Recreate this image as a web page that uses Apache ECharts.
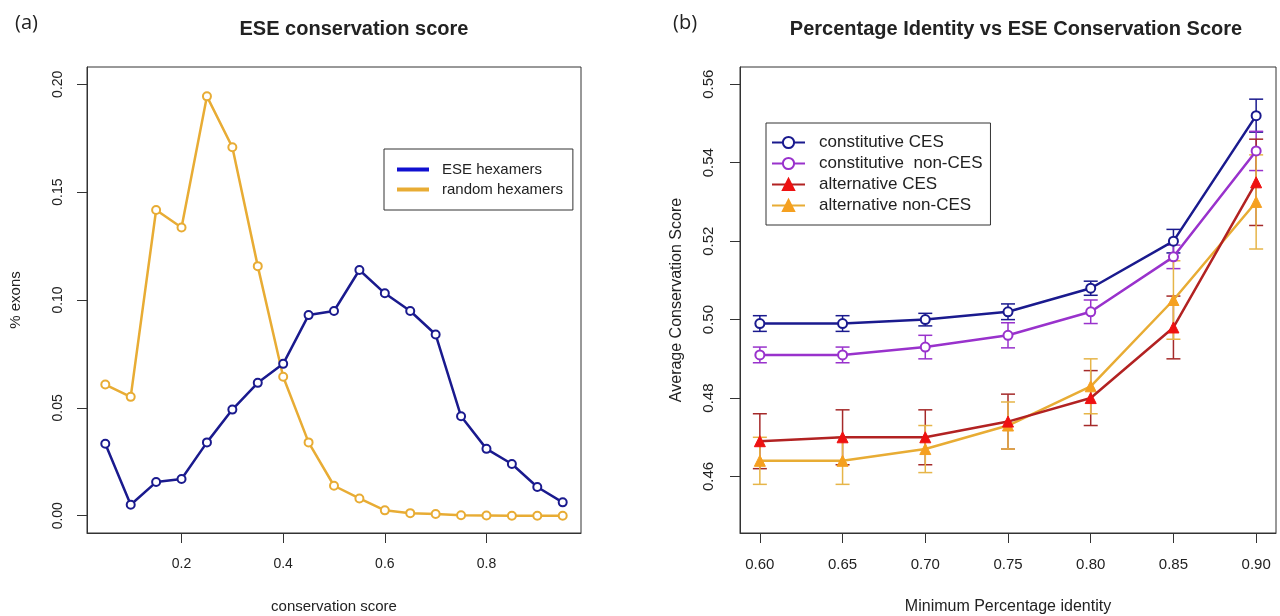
<!DOCTYPE html>
<html>
<head>
<meta charset="utf-8">
<script src="https://cdn.jsdelivr.net/npm/echarts@6/dist/echarts.min.js"></script>
<style>
html,body{margin:0;padding:0;background:#fff;}
#main{width:1280px;height:616px;}
</style>
</head>
<body>
<div id="main"></div>
<script>
// ---------- Data (a) ----------
const scoreBins = [0.05,0.10,0.15,0.20,0.25,0.30,0.35,0.40,0.45,0.50,0.55,0.60,0.65,0.70,0.75,0.80,0.85,0.90,0.95];
const eseHexamers = [0.0334,0.0051,0.0156,0.0170,0.0340,0.0492,0.0616,0.0704,0.0930,0.0949,0.1139,0.1031,0.0949,0.0840,0.0461,0.0310,0.0240,0.0133,0.0062];
const randomHexamers = [0.0608,0.0551,0.1417,0.1336,0.1944,0.1708,0.1157,0.0644,0.0340,0.0139,0.0080,0.0025,0.0012,0.0008,0.0002,0.0001,0.0000,0.0000,0.0000];
const aXTicks = [0.2,0.4,0.6,0.8];
const aYTicks = [0.00,0.05,0.10,0.15,0.20];

// ---------- Data (b) ----------
const identity = [0.60,0.65,0.70,0.75,0.80,0.85,0.90];
const constCES = [0.499,0.499,0.500,0.502,0.508,0.520,0.552];
const constCESErr = [0.002,0.002,0.0016,0.002,0.0018,0.003,0.0042];
const constNonCES = [0.491,0.491,0.493,0.496,0.502,0.516,0.543];
const constNonCESErr = [0.002,0.002,0.003,0.0032,0.003,0.003,0.005];
const altCES = [0.469,0.470,0.470,0.474,0.480,0.498,0.535];
const altCESErr = [0.007,0.007,0.007,0.007,0.007,0.008,0.011];
const altNonCES = [0.464,0.464,0.467,0.473,0.483,0.505,0.530];
const altNonCESErr = [0.006,0.006,0.006,0.006,0.007,0.010,0.012];
const bXTicks = [0.60,0.65,0.70,0.75,0.80,0.85,0.90];
const bYTicks = [0.46,0.48,0.50,0.52,0.54,0.56];

const FONT = 'Liberation Sans';
const pair = (xs, ys) => xs.map((x,i)=>[x, ys[i]]);
const errData = (xs, ys, es) => xs.map((x,i)=>[x, ys[i]-es[i], ys[i]+es[i]]);

function errSeries(name, data, color){
  return {
    type:'custom', xAxisIndex:1, yAxisIndex:1, z:1, silent:true,
    data: data,
    renderItem: function(params, api){
      const x = api.value(0);
      const p1 = api.coord([x, api.value(1)]);
      const p2 = api.coord([x, api.value(2)]);
      const w = 7;
      const st = {stroke: color, lineWidth: 1.5};
      return {type:'group', children:[
        {type:'line', shape:{x1:p1[0],y1:p1[1],x2:p2[0],y2:p2[1]}, style:st},
        {type:'line', shape:{x1:p1[0]-w,y1:p1[1],x2:p1[0]+w,y2:p1[1]}, style:st},
        {type:'line', shape:{x1:p2[0]-w,y1:p2[1],x2:p2[0]+w,y2:p2[1]}, style:st}
      ]};
    }
  };
}

function axis(opts, ticks, fmt, fontSize, margin, rotate){
  return Object.assign({
    type:'value',
    axisLine:{show:true, onZero:false, lineStyle:{color:'#333', width:1}},
    axisTick:{show:true, length:10, lineStyle:{color:'#333'}, customValues:ticks},
    axisLabel:{customValues:ticks, margin:margin, rotate:rotate||0, fontFamily:FONT, fontSize:fontSize, color:'#222', formatter:fmt},
    splitLine:{show:false},
    nameLocation:'middle'
  }, opts);
}

const chart = echarts.init(document.getElementById('main'));
chart.setOption({
  backgroundColor:'#fff',
  animation:false,
  title:[
    {text:'(a)', left:10, top:8, textStyle:{fontFamily:'Open Sans', fontSize:20, fontWeight:'normal', color:'#222'}},
    {text:'ESE conservation score', left:349, textAlign:'center', top:14, textStyle:{fontFamily:FONT, fontSize:20, fontWeight:'bold', color:'#222'}},
    {text:'(b)', left:668, top:8, textStyle:{fontFamily:'Open Sans', fontSize:20, fontWeight:'normal', color:'#222'}},
    {text:'Percentage Identity vs ESE Conservation Score', left:1011, textAlign:'center', top:14, textStyle:{fontFamily:FONT, fontSize:20, fontWeight:'bold', color:'#222'}}
  ],
  grid:[
    {left:87, top:67, width:494, height:466, show:true, borderColor:'#333', borderWidth:1, outerBoundsMode:'none', containLabel:false},
    {left:740, top:67, width:536, height:466, show:true, borderColor:'#333', borderWidth:1, outerBoundsMode:'none', containLabel:false}
  ],
  legend:[
    {left:384, top:149, orient:'vertical', borderColor:'#333', borderWidth:1, padding:[13,10,13,13],
     itemWidth:30, itemHeight:2, itemGap:5, icon:'rect',
     textStyle:{fontFamily:FONT, fontSize:15, color:'#222', padding:[0,0,0,9]},
     data:['ESE hexamers','random hexamers']},
    {left:766, top:123, orient:'vertical', borderColor:'#333', borderWidth:1, padding:[11,8,11,5],
     itemWidth:33, itemHeight:14, itemGap:4,
     textStyle:{fontFamily:FONT, fontSize:17, color:'#222', padding:[0,0,0,9]},
     data:['constitutive CES','constitutive  non-CES','alternative CES','alternative non-CES']}
  ],
  xAxis:[
    axis({gridIndex:0, min:0.014, max:0.986, name:'conservation score', nameGap:66,
      nameTextStyle:{fontFamily:FONT, fontSize:15, color:'#222'}}, aXTicks, v=>v.toFixed(1), 14, 24),
    axis({gridIndex:1, min:0.588, max:0.912, name:'Minimum Percentage identity', nameGap:66,
      nameTextStyle:{fontFamily:FONT, fontSize:16, color:'#222'}}, bXTicks, v=>v.toFixed(2), 15, 24)
  ],
  yAxis:[
    axis({gridIndex:0, min:-0.008, max:0.208, name:'% exons', nameGap:64,
      nameTextStyle:{fontFamily:FONT, fontSize:15, color:'#222'}}, aYTicks, v=>v.toFixed(2), 14, 22, 90),
    axis({gridIndex:1, min:0.4456, max:0.5644, name:'Average Conservation Score', nameGap:55,
      nameTextStyle:{fontFamily:FONT, fontSize:16, color:'#222'}}, bYTicks, v=>v.toFixed(2), 15, 24, 90)
  ],
  series:[
    {name:'ESE hexamers', type:'line', xAxisIndex:0, yAxisIndex:0, data:pair(scoreBins, eseHexamers),
     symbol:'emptyCircle', symbolSize:8, z:3,
     lineStyle:{color:'#1a1a8e', width:2.5}, itemStyle:{color:'#1a1a8e', borderColor:'#1010d0', borderWidth:2.5}},
    {name:'random hexamers', type:'line', xAxisIndex:0, yAxisIndex:0, data:pair(scoreBins, randomHexamers),
     symbol:'emptyCircle', symbolSize:8, z:2,
     lineStyle:{color:'#e8ac34', width:2.5}, itemStyle:{color:'#e8ac34', borderColor:'#e8ac34', borderWidth:2.5}},

    errSeries('e1', errData(identity, constCES, constCESErr), '#1a1a8e'),
    errSeries('e2', errData(identity, constNonCES, constNonCESErr), '#9932cc'),
    errSeries('e3', errData(identity, altCES, altCESErr), '#a52a2a'),
    errSeries('e4', errData(identity, altNonCES, altNonCESErr), '#e6b548'),

    {name:'constitutive CES', type:'line', xAxisIndex:1, yAxisIndex:1, data:pair(identity, constCES),
     symbol:'emptyCircle', symbolSize:9, z:5,
     lineStyle:{color:'#1a1a8e', width:2.5}, itemStyle:{color:'#1a1a8e', borderColor:'#1010d0', borderWidth:2.5}},
    {name:'constitutive  non-CES', type:'line', xAxisIndex:1, yAxisIndex:1, data:pair(identity, constNonCES),
     symbol:'emptyCircle', symbolSize:9, z:4,
     lineStyle:{color:'#9932cc', width:2.5}, itemStyle:{color:'#9932cc', borderColor:'#a040e0', borderWidth:2.5}},
    {name:'alternative CES', type:'line', xAxisIndex:1, yAxisIndex:1, data:pair(identity, altCES),
     symbol:'triangle', symbolSize:11, z:4,
     lineStyle:{color:'#b22222', width:2.5}, itemStyle:{color:'#ee1111', borderColor:'#ee1111', borderWidth:1}},
    {name:'alternative non-CES', type:'line', xAxisIndex:1, yAxisIndex:1, data:pair(identity, altNonCES),
     symbol:'triangle', symbolSize:11, z:3,
     lineStyle:{color:'#e8ac34', width:2.5}, itemStyle:{color:'#f5a020', borderColor:'#f5a020', borderWidth:1}}
  ]
});
</script>
</body>
</html>
